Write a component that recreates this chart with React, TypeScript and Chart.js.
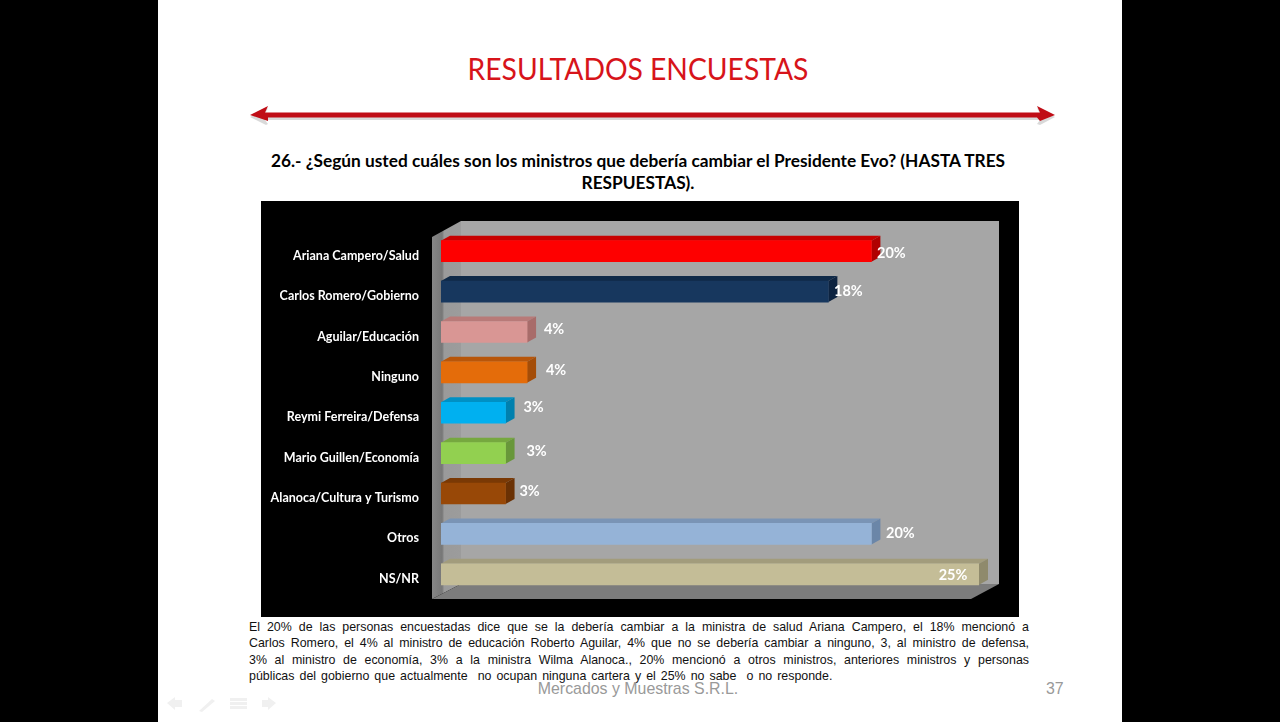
import React, { useEffect, useRef } from "react";
import { Chart, registerables } from "chart.js";

Chart.register(...registerables);

const categories = [
  "Ariana Campero/Salud",
  "Carlos Romero/Gobierno",
  "Aguilar/Educación",
  "Ninguno",
  "Reymi Ferreira/Defensa",
  "Mario Guillen/Economía",
  "Alanoca/Cultura y Turismo",
  "Otros",
  "NS/NR",
];
const values = [20, 18, 4, 4, 3, 3, 3, 20, 25];
const frontColors = ["#fe0000", "#17375e", "#d99694", "#e46c0a", "#00b0f0", "#92d050", "#984807", "#95b3d7", "#c4bd97"];
const topColors = ["#c80000", "#102a48", "#b87a78", "#b8560a", "#0090c4", "#76a83f", "#7a3905", "#7a94b5", "#a29c7c"];
const sideColors = ["#b00000", "#0d2340", "#a86c6a", "#a44d08", "#0080ae", "#68973a", "#6a3104", "#6b86a8", "#8f8a6c"];
const labelShiftX = [20, 20, 27, 29, 28, 31, 24, 29, -26];
const labelShiftY = [2, 0, -3, -2, -5, -2, -2, -1, 1];

const questionLines = [
  "26.- ¿Según usted cuáles son los ministros que debería cambiar el Presidente Evo? (HASTA TRES",
  "RESPUESTAS).",
];
const bodyLines = [
  "El 20% de las personas encuestadas dice que se la debería cambiar a la ministra de salud Ariana Campero, el 18% mencionó a",
  "Carlos Romero, el 4% al ministro de educación Roberto Aguilar, 4% que no se debería cambiar a ninguno, 3, al ministro de defensa,",
  "3% al ministro de economía, 3% a la ministra Wilma Alanoca., 20% mencionó a otros ministros, anteriores ministros y personas",
  "públicas del gobierno que actualmente \u00a0no ocupan ninguna cartera y el 25% no sabe \u00a0o no responde.",
];

const DX = 9;
const DY = 5;

const scene3d = {
  id: "scene3d",
  beforeDatasetsDraw(chart: any) {
    const { ctx, chartArea: a } = chart;
    const wl = a.left + 20, wr = a.right + 20, wt = 20, fb = 398, fbBack = 383;
    const fl = a.left - 9, fr = wr - 28;
    ctx.save();
    // back wall
    ctx.fillStyle = "#a6a6a6";
    ctx.fillRect(wl, wt, wr - wl, fbBack - wt);
    // left wall
    const g = ctx.createLinearGradient(fl, 0, wl, 0);
    g.addColorStop(0, "#868686");
    g.addColorStop(0.35, "#777777");
    g.addColorStop(0.42, "#9a9a9a");
    g.addColorStop(1, "#9c9c9c");
    ctx.fillStyle = g;
    ctx.beginPath();
    ctx.moveTo(fl, wt + 16);
    ctx.lineTo(wl, wt);
    ctx.lineTo(wl, fbBack);
    ctx.lineTo(fl, fb);
    ctx.closePath();
    ctx.fill();
    // floor
    ctx.fillStyle = "#7c7c7c";
    ctx.beginPath();
    ctx.moveTo(fl, fb);
    ctx.lineTo(wl, fbBack);
    ctx.lineTo(wr, fbBack);
    ctx.lineTo(fr, fb);
    ctx.closePath();
    ctx.fill();
    // bar depth faces
    chart.getDatasetMeta(0).data.forEach((bar: any, i: number) => {
      const x0 = bar.base, x1 = bar.x;
      const t = bar.y - bar.height / 2, b = bar.y + bar.height / 2;
      ctx.fillStyle = topColors[i];
      ctx.beginPath();
      ctx.moveTo(x0, t);
      ctx.lineTo(x0 + DX, t - DY);
      ctx.lineTo(x1 + DX, t - DY);
      ctx.lineTo(x1, t);
      ctx.closePath();
      ctx.fill();
      ctx.fillStyle = sideColors[i];
      ctx.beginPath();
      ctx.moveTo(x1, t);
      ctx.lineTo(x1 + DX, t - DY);
      ctx.lineTo(x1 + DX, b - DY);
      ctx.lineTo(x1, b);
      ctx.closePath();
      ctx.fill();
    });
    ctx.restore();
  },
  afterDatasetsDraw(chart: any) {
    const { ctx } = chart;
    ctx.save();
    ctx.fillStyle = "#ffffff";
    ctx.font = "bold 14.5px Lato, sans-serif";
    ctx.textAlign = "center";
    ctx.textBaseline = "middle";
    chart.getDatasetMeta(0).data.forEach((bar: any, i: number) => {
      ctx.fillText(values[i] + "%", bar.x + labelShiftX[i], bar.y + labelShiftY[i]);
    });
    ctx.restore();
  },
};

export default function App() {
  const ref = useRef<HTMLCanvasElement>(null);
  useEffect(() => {
    document.body.style.margin = "0";
    document.body.style.background = "#000";
    const chart = new Chart(ref.current!, {
      type: "bar",
      data: {
        labels: categories,
        datasets: [
          {
            data: values,
            backgroundColor: frontColors,
            borderWidth: 0,
            barThickness: 21,
          },
        ],
      },
      plugins: [scene3d],
      options: {
        indexAxis: "y",
        responsive: false,
        animation: false,
        layout: { padding: { top: 30, bottom: 22.5, right: 40, left: 0 } },
        plugins: { legend: { display: false }, tooltip: { enabled: false }, title: { display: false } },
        scales: {
          x: { min: 0, max: 25, display: false },
          y: {
            afterFit(scale: any) {
              scale.width = 180;
              scale.paddingTop = 0;
              scale.paddingBottom = 0;
            },
            border: { display: false },
            grid: { display: false, drawTicks: false },
            ticks: {
              color: "#ffffff",
              padding: 22,
              labelOffset: 4.5,
              font: { family: "Lato, sans-serif", weight: "bold", size: 12.5 },
            },
          },
        },
      },
    });
    return () => chart.destroy();
  }, []);

  const abs = (o: React.CSSProperties): React.CSSProperties => ({ position: "absolute", ...o });

  return (
    <div style={abs({ left: 0, top: 0, width: 1280, height: 722, background: "#000", overflow: "hidden" })}>
      <div style={abs({ left: 158, top: 0, width: 964, height: 722, background: "#fff" })} />
      <div
        style={abs({
          left: 338,
          width: 600,
          top: 48,
          textAlign: "center",
          color: "#d7141a",
          font: "31.5px/40px Lato, sans-serif",
          whiteSpace: "nowrap",
          transform: "scaleX(0.897)",
        })}
      >
        RESULTADOS ENCUESTAS
      </div>
      <svg style={abs({ left: 240, top: 100, width: 830, height: 32 })} viewBox="0 0 830 32">
        <path d="M10 15 L28 6 L25 12 L800 12 L797 6 L815 15 L800 23 L797 22 L800 18 L25 18 L28 22 L26 23 Z" fill="#000" opacity="0.15" transform="translate(0 2)" />
        <path d="M10 15 L28 6 L25 12.5 L800 12.5 L797 6 L815 15 L800 21 L797 17.5 L28 17.5 L28 21 Z" fill="#c00d16" />
      </svg>
      {questionLines.map((t, i) => (
        <div
          key={i}
          style={abs({
            left: 238,
            width: 800,
            top: 150 + i * 22,
            textAlign: "center",
            color: "#000",
            font: "bold 17.3px/22px Lato, sans-serif",
            whiteSpace: "nowrap",
          })}
        >
          {t}
        </div>
      ))}
      <canvas ref={ref} width={758} height={416} style={abs({ left: 261, top: 201, width: 758, height: 416, background: "#000" })} />
      {bodyLines.map((t, i) => (
        <div
          key={i}
          style={abs({
            left: 249,
            width: 780,
            top: 619 + i * 16.3,
            color: "#111",
            font: "12.4px/16px 'Liberation Sans', sans-serif",
            textAlign: i < 3 ? "justify" : "left",
            textAlignLast: i < 3 ? "justify" : "left",
            wordSpacing: i === 3 ? "1.6px" : undefined,
          })}
        >
          {t}
        </div>
      ))}
      <div style={abs({ left: 438, width: 400, top: 680, textAlign: "center", color: "#999999", font: "15.9px/18px 'Liberation Sans', sans-serif" })}>
        Mercados y Muestras S.R.L.
      </div>
      <div style={abs({ left: 1046, top: 680, color: "#999999", font: "15.9px/18px 'Liberation Sans', sans-serif" })}>37</div>
      <svg style={abs({ left: 160, top: 690, width: 120, height: 28 })} viewBox="0 0 120 28" fill="#f0f0f0">
        <path d="M7 13 L15 7 V10 H22 V17 H15 V20 Z" />
        <path d="M39 21 L52 9 L55 11 L42 22 Z" />
        <rect x="70" y="8" width="17" height="3" />
        <rect x="70" y="12" width="17" height="3" />
        <rect x="70" y="16" width="17" height="3" />
        <path d="M116 13 L108 7 V10 H102 V17 H108 V20 Z" />
      </svg>
    </div>
  );
}
